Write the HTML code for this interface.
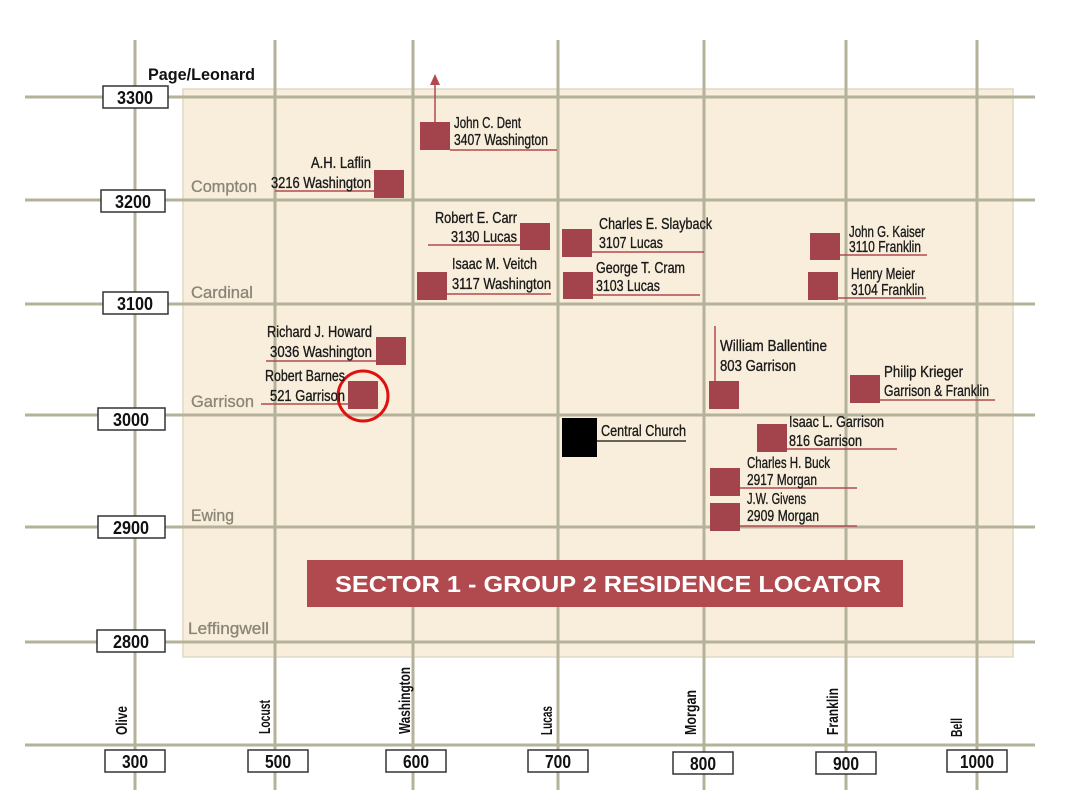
<!DOCTYPE html>
<html><head><meta charset="utf-8"><style>
body{margin:0;background:#fff;}
svg{display:block;}
text{font-family:"Liberation Sans",sans-serif;}
.l{font-size:16px;fill:#1a1a1a;stroke:#1a1a1a;stroke-width:0.35;}
.s{font-size:17px;fill:#8a8577;stroke:#8a8577;stroke-width:0.3;}
.n{font-size:17px;fill:#111;}
</style></head><body>
<svg width="1067" height="800" viewBox="0 0 1067 800">
<rect x="183" y="89" width="830" height="568" fill="#f8eedb" stroke="#ddd8c8" stroke-width="1.5"/>
<g stroke="#b5b29a" stroke-width="3">
<line x1="135" y1="40" x2="135" y2="790"/><line x1="275" y1="40" x2="275" y2="790"/>
<line x1="413" y1="40" x2="413" y2="790"/><line x1="558" y1="40" x2="558" y2="790"/>
<line x1="704" y1="40" x2="704" y2="790"/><line x1="846" y1="40" x2="846" y2="790"/>
<line x1="977" y1="40" x2="977" y2="790"/>
<line x1="25" y1="97" x2="1035" y2="97"/><line x1="25" y1="200" x2="1035" y2="200"/>
<line x1="25" y1="304" x2="1035" y2="304"/><line x1="25" y1="415" x2="1035" y2="415"/>
<line x1="25" y1="527" x2="1035" y2="527"/><line x1="25" y1="642" x2="1035" y2="642"/>
<line x1="25" y1="745" x2="1035" y2="745"/>
</g>
<text x="148" y="80" style="font-size:17px;font-weight:bold" fill="#111" textLength="107" lengthAdjust="spacingAndGlyphs">Page/Leonard</text>
<g fill="#fff" stroke="#333" stroke-width="1.5">
<rect x="103" y="86" width="65" height="22"/><rect x="101" y="190" width="64" height="22"/>
<rect x="103" y="292" width="65" height="22"/><rect x="98" y="408" width="67" height="22"/>
<rect x="98" y="516" width="67" height="22"/><rect x="97" y="630" width="68" height="22"/>
<rect x="105" y="750" width="60" height="22"/><rect x="248" y="750" width="60" height="22"/>
<rect x="386" y="750" width="60" height="22"/><rect x="528" y="750" width="60" height="22"/>
<rect x="673" y="752" width="60" height="22"/><rect x="816" y="752" width="60" height="22"/>
<rect x="947" y="750" width="60" height="22"/>
</g>
<g class="n" style="font-size:18px;font-weight:bold">
<text x="117" y="104" textLength="36" lengthAdjust="spacingAndGlyphs">3300</text>
<text x="115" y="208" textLength="36" lengthAdjust="spacingAndGlyphs">3200</text>
<text x="117" y="310" textLength="36" lengthAdjust="spacingAndGlyphs">3100</text>
<text x="113" y="426" textLength="36" lengthAdjust="spacingAndGlyphs">3000</text>
<text x="113" y="534" textLength="36" lengthAdjust="spacingAndGlyphs">2900</text>
<text x="113" y="648" textLength="36" lengthAdjust="spacingAndGlyphs">2800</text>
<text x="122" y="768" textLength="26" lengthAdjust="spacingAndGlyphs">300</text>
<text x="265" y="768" textLength="26" lengthAdjust="spacingAndGlyphs">500</text>
<text x="403" y="768" textLength="26" lengthAdjust="spacingAndGlyphs">600</text>
<text x="545" y="768" textLength="26" lengthAdjust="spacingAndGlyphs">700</text>
<text x="690" y="770" textLength="26" lengthAdjust="spacingAndGlyphs">800</text>
<text x="833" y="770" textLength="26" lengthAdjust="spacingAndGlyphs">900</text>
<text x="960" y="768" textLength="34" lengthAdjust="spacingAndGlyphs">1000</text>
</g>
<g class="n" style="font-size:16px;font-weight:bold">
<text transform="translate(127,735) rotate(-90)" textLength="29" lengthAdjust="spacingAndGlyphs">Olive</text>
<text transform="translate(270,734) rotate(-90)" textLength="34" lengthAdjust="spacingAndGlyphs">Locust</text>
<text transform="translate(410,734) rotate(-90)" textLength="67" lengthAdjust="spacingAndGlyphs">Washington</text>
<text transform="translate(552,735) rotate(-90)" textLength="29" lengthAdjust="spacingAndGlyphs">Lucas</text>
<text transform="translate(696,735) rotate(-90)" textLength="45" lengthAdjust="spacingAndGlyphs">Morgan</text>
<text transform="translate(838,735) rotate(-90)" textLength="47" lengthAdjust="spacingAndGlyphs">Franklin</text>
<text transform="translate(962,737) rotate(-90)" textLength="19" lengthAdjust="spacingAndGlyphs">Bell</text>
</g>
<g class="s">
<text x="191" y="192" textLength="66" lengthAdjust="spacingAndGlyphs">Compton</text>
<text x="191" y="298" textLength="62" lengthAdjust="spacingAndGlyphs">Cardinal</text>
<text x="191" y="407" textLength="63" lengthAdjust="spacingAndGlyphs">Garrison</text>
<text x="191" y="521" textLength="43" lengthAdjust="spacingAndGlyphs">Ewing</text>
<text x="188" y="634" textLength="81" lengthAdjust="spacingAndGlyphs">Leffingwell</text>
</g>
<g stroke="#b04a4f" stroke-width="1.5">
<line x1="435" y1="122" x2="435" y2="80"/>
<line x1="450" y1="150" x2="557" y2="150"/><line x1="275" y1="191" x2="374" y2="191"/>
<line x1="428" y1="245" x2="520" y2="245"/><line x1="447" y1="294" x2="551" y2="294"/>
<line x1="592" y1="252" x2="704" y2="252"/><line x1="593" y1="295" x2="700" y2="295"/>
<line x1="840" y1="255" x2="927" y2="255"/><line x1="838" y1="298" x2="926" y2="298"/>
<line x1="266" y1="361" x2="376" y2="361"/><line x1="261" y1="404" x2="348" y2="404"/>
<line x1="715" y1="326" x2="715" y2="381"/><line x1="880" y1="400" x2="995" y2="400"/>
<line x1="787" y1="449" x2="897" y2="449"/><line x1="740" y1="488" x2="857" y2="488"/>
<line x1="740" y1="526" x2="857" y2="526"/>
</g>
<polygon points="435,74 430,85 440,85" fill="#b04a4f"/>
<line x1="597" y1="441" x2="686" y2="441" stroke="#333" stroke-width="1.5"/>
<g fill="#a3434b">
<rect x="420" y="122" width="30" height="28"/><rect x="374" y="170" width="30" height="28"/>
<rect x="520" y="223" width="30" height="27"/><rect x="417" y="272" width="30" height="28"/>
<rect x="562" y="229" width="30" height="28"/><rect x="563" y="272" width="30" height="27"/>
<rect x="810" y="233" width="30" height="27"/><rect x="808" y="272" width="30" height="28"/>
<rect x="376" y="337" width="30" height="28"/><rect x="348" y="381" width="30" height="28"/>
<rect x="709" y="381" width="30" height="28"/><rect x="850" y="375" width="30" height="28"/>
<rect x="757" y="424" width="30" height="28"/><rect x="710" y="468" width="30" height="28"/>
<rect x="710" y="503" width="30" height="28"/>
</g>
<rect x="562" y="418" width="35" height="39" fill="#000"/>
<circle cx="363" cy="396" r="25" fill="none" stroke="#e01010" stroke-width="3"/>
<g class="l">
<text x="454" y="128" textLength="67" lengthAdjust="spacingAndGlyphs">John C. Dent</text>
<text x="454" y="145" textLength="94" lengthAdjust="spacingAndGlyphs">3407 Washington</text>
<text x="311" y="168" textLength="60" lengthAdjust="spacingAndGlyphs">A.H. Laflin</text>
<text x="271" y="188" textLength="100" lengthAdjust="spacingAndGlyphs">3216 Washington</text>
<text x="435" y="223" textLength="82" lengthAdjust="spacingAndGlyphs">Robert E. Carr</text>
<text x="451" y="242" textLength="66" lengthAdjust="spacingAndGlyphs">3130 Lucas</text>
<text x="452" y="269" textLength="85" lengthAdjust="spacingAndGlyphs">Isaac M. Veitch</text>
<text x="452" y="289" textLength="99" lengthAdjust="spacingAndGlyphs">3117 Washington</text>
<text x="599" y="229" textLength="113" lengthAdjust="spacingAndGlyphs">Charles E. Slayback</text>
<text x="599" y="248" textLength="64" lengthAdjust="spacingAndGlyphs">3107 Lucas</text>
<text x="596" y="273" textLength="89" lengthAdjust="spacingAndGlyphs">George T. Cram</text>
<text x="596" y="291" textLength="64" lengthAdjust="spacingAndGlyphs">3103 Lucas</text>
<text x="849" y="237" textLength="76" lengthAdjust="spacingAndGlyphs">John G. Kaiser</text>
<text x="849" y="252" textLength="72" lengthAdjust="spacingAndGlyphs">3110 Franklin</text>
<text x="851" y="279" textLength="64" lengthAdjust="spacingAndGlyphs">Henry Meier</text>
<text x="851" y="295" textLength="73" lengthAdjust="spacingAndGlyphs">3104 Franklin</text>
<text x="267" y="337" textLength="105" lengthAdjust="spacingAndGlyphs">Richard J. Howard</text>
<text x="270" y="357" textLength="102" lengthAdjust="spacingAndGlyphs">3036 Washington</text>
<text x="265" y="381" textLength="80" lengthAdjust="spacingAndGlyphs">Robert Barnes</text>
<text x="270" y="401" textLength="75" lengthAdjust="spacingAndGlyphs">521 Garrison</text>
<text x="720" y="351" textLength="107" lengthAdjust="spacingAndGlyphs">William Ballentine</text>
<text x="720" y="371" textLength="76" lengthAdjust="spacingAndGlyphs">803 Garrison</text>
<text x="884" y="377" textLength="79" lengthAdjust="spacingAndGlyphs">Philip Krieger</text>
<text x="884" y="396" textLength="105" lengthAdjust="spacingAndGlyphs">Garrison &amp; Franklin</text>
<text x="601" y="436" textLength="85" lengthAdjust="spacingAndGlyphs">Central Church</text>
<text x="789" y="427" textLength="95" lengthAdjust="spacingAndGlyphs">Isaac L. Garrison</text>
<text x="789" y="446" textLength="73" lengthAdjust="spacingAndGlyphs">816 Garrison</text>
<text x="747" y="468" textLength="83" lengthAdjust="spacingAndGlyphs">Charles H. Buck</text>
<text x="747" y="485" textLength="70" lengthAdjust="spacingAndGlyphs">2917 Morgan</text>
<text x="747" y="504" textLength="59" lengthAdjust="spacingAndGlyphs">J.W. Givens</text>
<text x="747" y="521" textLength="72" lengthAdjust="spacingAndGlyphs">2909 Morgan</text>
</g>
<rect x="307" y="560" width="596" height="47" fill="#b04a4f"/>
<text x="335" y="592" style="font-size:23px;font-weight:bold" fill="#fff" textLength="546" lengthAdjust="spacingAndGlyphs">SECTOR 1 - GROUP 2 RESIDENCE LOCATOR</text>
</svg>
</body></html>
